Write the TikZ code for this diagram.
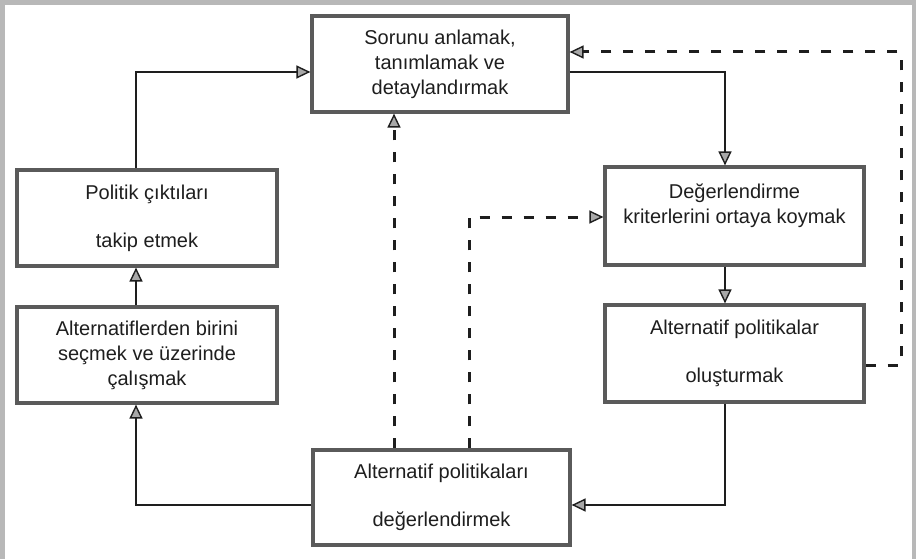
\documentclass[tikz,border=0pt]{standalone}
\usepackage{fontspec}
\setmainfont{Liberation Sans}
\usetikzlibrary{arrows.meta}
\definecolor{ink}{HTML}{1E1E1E}
\definecolor{boxline}{HTML}{5A5A5A}
\definecolor{tipfill}{HTML}{A8A8A8}
\definecolor{edge}{HTML}{B8B8B8}

\begin{document}
\begin{tikzpicture}[x=1pt,y=-1pt,
  box/.style={draw=boxline, line width=3.2pt, fill=white, inner sep=0pt,
    minimum width=258pt, minimum height=96pt, align=center, text=ink,
    font=\fontsize{20}{25}\selectfont},
  tip/.style={-{Triangle[length=14pt,width=13pt,line width=1.4pt,fill=tipfill]}},
  flow/.style={tip, draw=ink, line width=2.4pt},
  back/.style={tip, draw=ink, line width=3pt, dash pattern=on 10pt off 12pt}]

\useasboundingbox (0,0) rectangle (916,559);
\fill[white] (0,0) rectangle (916,559);
% scanned page edge
\fill[edge] (0,0) rectangle (916,5);
\fill[edge] (0,0) rectangle (5,559);
\fill[edge] (912,0) rectangle (916,559);

% process steps
\node[box, minimum width=256pt] (top) at (440,64) {Sorunu anlamak,\\tanımlamak ve\\detaylandırmak};
\node[box, minimum width=259pt, minimum height=98pt] (crit) at (734.5,216) {Değerlendirme\\kriterlerini ortaya koymak\\~};
\node[box, minimum width=259pt, minimum height=97pt] (gen) at (734.5,353.5) {Alternatif politikalar\\[23pt]oluşturmak};
\node[box, minimum width=257pt, minimum height=95pt] (eval) at (441.5,497.5) {Alternatif politikaları\\[23pt]değerlendirmek};
\node[box, minimum width=260pt] (sel) at (147,355) {Alternatiflerden birini\\seçmek ve üzerinde\\çalışmak};
\node[box, minimum width=260pt] (mon) at (147,218) {Politik çıktıları\\[23pt]takip etmek};

% routing lines
\coordinate (xl) at (136,0);
\coordinate (xr) at (725,0);
\coordinate (xd) at (901,0);
\coordinate (xa) at (394,0);
\coordinate (xb) at (469,0);
\coordinate (yt) at (0,72);
\coordinate (yd) at (0,52);
\coordinate (yb) at (0,505);
\coordinate (ym) at (0,217);
\coordinate (yg) at (0,365);

% main cycle
\draw[flow] (mon.north -| xl) -- (xl |- yt) -- (top.west |- yt);
\draw[flow] (top.east |- yt) -- (xr |- yt) -- (crit.north -| xr);
\draw[flow] (crit.south -| xr) -- (gen.north -| xr);
\draw[flow] (gen.south -| xr) -- (xr |- yb) -- (eval.east |- yb);
\draw[flow] (eval.west |- yb) -- (xl |- yb) -- (sel.south -| xl);
\draw[flow] (sel.north -| xl) -- (mon.south -| xl);

% feedback loops
\draw[back] (gen.east |- yg) -- (xd |- yg) -- (xd |- yd) -- (top.east |- yd);
\draw[back] (eval.north -| xa) -- (top.south -| xa);
\draw[back] (eval.north -| xb) -- (xb |- ym) -- (crit.west |- ym);
\end{tikzpicture}
\end{document}
